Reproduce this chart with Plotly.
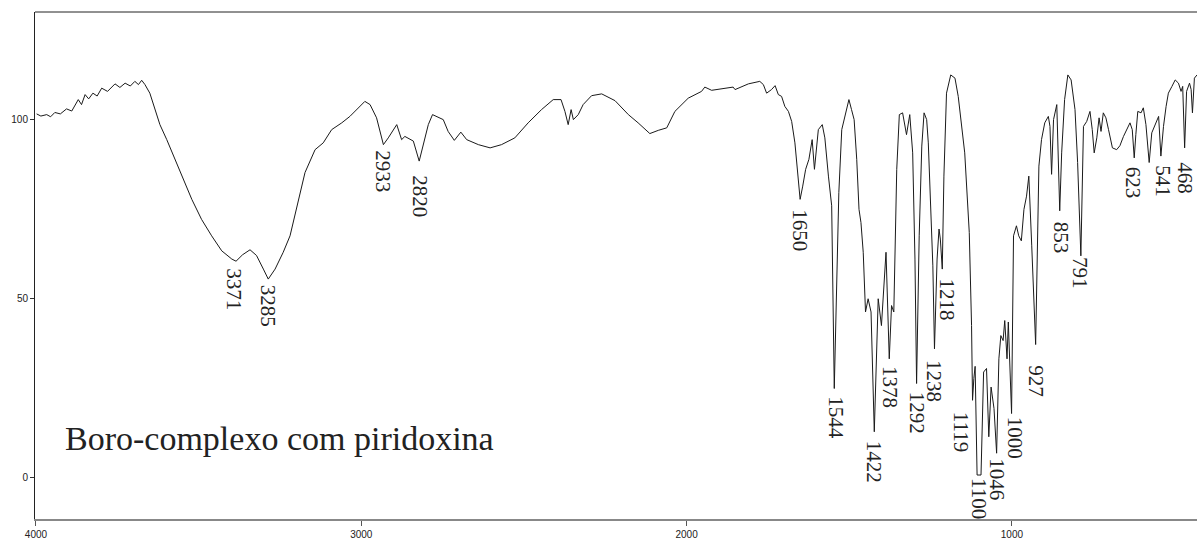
import plotly.graph_objects as go

# Wavenumber (cm-1) and transmittance (%)
wavenumber = [
    3998, 3985, 3967, 3955, 3942, 3925, 3906, 3890, 3870, 3860, 3849, 3838, 3825, 3812, 3798, 3780, 3757, 3742,
    3726, 3710, 3696, 3685, 3675, 3665, 3650, 3634, 3619, 3598, 3573, 3547, 3521, 3491, 3460, 3429,
    3398, 3385, 3365, 3342, 3322, 3301, 3286, 3265, 3240, 3219, 3199, 3173, 3142, 3117, 3091,
    3060, 3035, 3009, 2989, 2973, 2953, 2932, 2917, 2891, 2876, 2866, 2840, 2822, 2810, 2794,
    2781, 2760, 2748, 2733, 2714, 2694, 2676, 2640, 2604, 2569, 2528, 2487, 2446, 2410, 2386,
    2374, 2364, 2355, 2348, 2333, 2318, 2292, 2261, 2220, 2179, 2149, 2113, 2087, 2061, 2036,
    1995, 1954, 1944, 1923, 1892, 1857, 1851, 1810, 1775, 1764, 1754, 1739, 1728, 1718, 1708,
    1698, 1687, 1677, 1667, 1659, 1651, 1643, 1634, 1624, 1614, 1607, 1595, 1583, 1575, 1564,
    1554, 1546, 1539, 1532, 1523, 1513, 1501, 1493, 1485, 1477, 1470, 1464, 1457, 1450, 1442,
    1433, 1423, 1411, 1401, 1387, 1377, 1370, 1363, 1354, 1346, 1336, 1324, 1314, 1305, 1298,
    1293, 1285, 1277, 1270, 1262, 1257, 1249, 1243, 1238, 1230, 1224, 1220, 1214, 1209, 1201,
    1188, 1175, 1165, 1145, 1140, 1131, 1124, 1121, 1117, 1113, 1107, 1095, 1087, 1078, 1071,
    1064, 1055, 1047, 1040, 1034, 1027, 1022, 1015, 1011, 1001, 995, 986, 979, 971, 963,
    955, 948, 939, 927, 917, 909, 899, 888, 883, 878, 872, 862, 853, 847, 838,
    828, 818, 806, 798, 788, 780, 770, 760, 753, 747, 739, 732, 726, 719, 711,
    703, 691, 678, 668, 657, 647, 637, 630, 624, 619, 613, 603, 596, 588, 578,
    570, 557, 549, 542, 534, 526, 519, 508, 498, 488, 480, 475, 469, 463, 454,
    449, 445, 439, 431,
]
transmittance = [
    101.6, 101.0, 101.4, 100.8, 102.0, 101.6, 103.0, 102.4, 105.6, 104.2, 107.0, 105.8, 107.4, 106.6, 108.8, 107.9, 110.0, 109.0,
    110.2, 109.4, 110.7, 109.8, 111.0, 109.8, 107.4, 102.8, 98.6, 94.4, 88.9, 83.3, 77.7, 72.1, 67.5, 63.3,
    61.0, 60.4, 62.2, 63.6, 62.0, 58.2, 55.4, 58.2, 62.9, 67.5, 74.9, 85.2, 91.6, 93.5, 97.2,
    99.1, 100.9, 103.3, 105.1, 104.2, 100.5, 93.0, 94.9, 98.6, 94.4, 95.3, 94.0, 88.4, 92.6, 98.6,
    101.4, 100.6, 100.0, 96.7, 94.2, 96.5, 94.4, 93.0, 92.1, 93.0, 94.9, 99.1, 102.8, 105.6, 105.6,
    102.3, 98.6, 102.8, 100.0, 101.4, 104.2, 106.7, 107.2, 105.3, 101.4, 99.1, 96.1, 97.0, 97.7, 102.3,
    106.0, 107.9, 109.1, 108.2, 108.6, 109.1, 108.4, 110.0, 110.7, 109.8, 107.4, 108.4, 109.5, 107.0, 106.5,
    103.7, 102.3, 99.5, 93.5, 86.1, 77.7, 81.4, 86.1, 88.9, 94.4, 86.1, 97.2, 98.6, 94.9, 84.2,
    75.9, 24.8, 56.3, 79.6, 97.2, 100.9, 105.6, 102.8, 100.0, 88.9, 74.9, 71.2, 62.9, 46.2, 49.9,
    46.2, 12.7, 49.9, 42.4, 62.9, 33.1, 48.0, 46.2, 86.1, 101.4, 101.9, 95.8, 101.4, 90.7, 61.0,
    26.2, 67.5, 92.6, 101.9, 100.0, 93.5, 74.9, 59.1, 35.9, 61.0, 69.4, 66.6, 58.2, 84.2, 107.4,
    112.5, 111.6, 106.5, 90.7, 81.4, 68.4, 42.4, 21.5, 27.6, 31.0, 0.6, 0.6, 29.4, 30.4, 11.3,
    25.2, 19.2, 6.7, 33.1, 39.6, 38.2, 43.8, 33.1, 43.4, 17.8, 67.5, 70.3, 67.5, 66.1, 74.9,
    78.6, 84.2, 64.7, 37.1, 87.0, 94.4, 99.1, 100.9, 98.1, 84.7, 100.0, 104.2, 74.5, 90.7, 105.6,
    112.5, 111.1, 102.8, 88.0, 61.9, 98.1, 99.5, 102.3, 97.2, 90.7, 94.9, 100.5, 96.7, 101.9, 100.5,
    97.2, 92.1, 91.6, 92.7, 95.3, 97.2, 99.1, 97.2, 89.3, 95.8, 102.3, 101.9, 103.3, 98.6, 88.0,
    96.3, 99.1, 100.9, 89.8, 98.1, 103.7, 107.4, 109.3, 111.1, 110.2, 107.9, 109.3, 92.1, 107.9, 110.2,
    108.4, 101.9, 111.6, 112.5,
]

# Peak labels: text, label centre (cm-1), label top (%T)
peak_text = ["3371", "3285", "2933", "2820", "1650", "1544", "1422", "1378", "1292", "1238",
             "1218", "1119", "1100", "1046", "1000", "927", "853", "791", "623", "541", "468"]
peak_x = [3392, 3286, 2932, 2822, 1651, 1543, 1423, 1377, 1293, 1240,
          1200, 1156, 1101, 1044, 991, 924, 849, 791, 627, 535, 468]
peak_y = [58.8, 54.0, 91.6, 84.7, 75.2, 23.0, 10.4, 31.3, 24.3, 33.1,
          55.9, 18.5, 0.2, 5.7, 17.2, 31.7, 71.7, 61.9, 87.0, 87.5, 88.4]

x_ticks = [4000, 3000, 2000, 1000]
y_ticks = [0, 50, 100]
caption = "Boro-complexo com piridoxina"

fig = go.Figure()
fig.add_trace(go.Scatter(x=wavenumber, y=transmittance, mode="lines",
                         line=dict(color="#1a1a1a", width=1), hoverinfo="x+y"))

serif = "Liberation Serif, Times New Roman, serif"
for t, px, py in zip(peak_text, peak_x, peak_y):
    fig.add_annotation(x=px, y=py, text=t, showarrow=False, textangle=90,
                       xanchor="center", yanchor="top", borderpad=0,
                       font=dict(family=serif, size=21, color="#222"))

fig.add_annotation(x=3917, y=10.85, text=caption, showarrow=False,
                   xanchor="left", yanchor="middle",
                   font=dict(family=serif, size=34, color="#222"))

fig.add_shape(type="line", xref="paper", yref="paper", x0=0, x1=1, y0=1, y1=1,
              line=dict(color="#222", width=1))

narrow = "Liberation Sans Narrow, Arial Narrow, Liberation Sans, Arial, sans-serif"
fig.update_layout(
    width=1198, height=541,
    margin=dict(l=35, r=1, t=12, b=20),
    paper_bgcolor="white", plot_bgcolor="white",
    showlegend=False,
    xaxis=dict(range=[4003, 431], tickvals=x_ticks, ticktext=[str(v) for v in x_ticks],
               ticks="outside", ticklen=5, tickcolor="#555", showline=True,
               linecolor="#888", linewidth=2, showgrid=False, zeroline=False,
               tickfont=dict(family=narrow, size=10, color="#222")),
    yaxis=dict(range=[-11.7, 130.1], tickvals=y_ticks, ticks="outside", ticklen=4,
               tickcolor="#333", showline=True, linecolor="#222", linewidth=1,
               showgrid=False, zeroline=False,
               tickfont=dict(family=narrow, size=10, color="#222")),
)

fig.write_html("out.html", config={"displayModeBar": False},
               post_script="document.body.style.margin='0px';document.body.style.overflow='hidden';")
